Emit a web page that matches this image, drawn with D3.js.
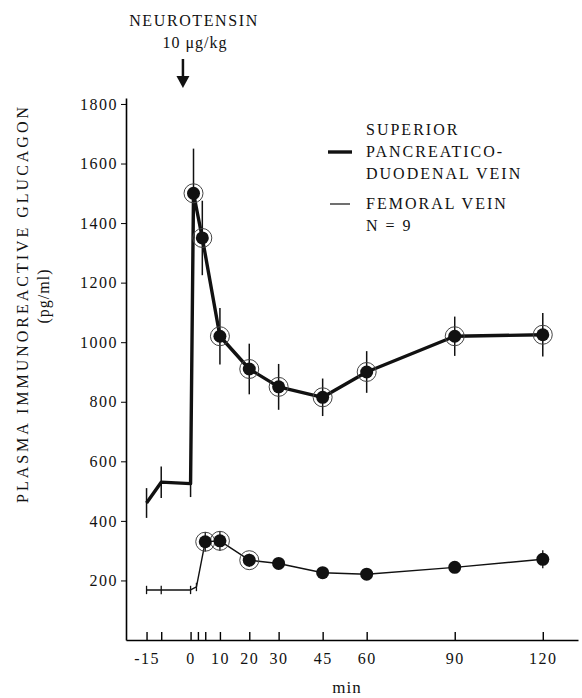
<!DOCTYPE html>
<html>
<head>
<meta charset="utf-8">
<script src="https://cdn.jsdelivr.net/npm/d3@7"></script>
<style>
    body { margin: 0; background: #fff; }
    svg text { font-family: "Liberation Serif", "DejaVu Serif", serif; fill: #111; }
</style>
</head>
<body>
<div id="chart"></div>
<script>
// Superior pancreaticoduodenal vein (thick line)
const spdvMinutes = [-15, -10, 0, 1, 4, 10, 20, 30, 45, 60, 90, 120];
const spdvGlucagon = [460, 530, 525, 1500, 1350, 1020, 910, 850, 815, 900, 1020, 1025];
const spdvSem = [50, 53, 45, 150, 125, 95, 85, 77, 63, 70, 66, 73];
const spdvDot = [false, false, false, true, true, true, true, true, true, true, true, true];
const spdvRing = [false, false, false, true, true, true, true, true, true, true, true, true];

// Femoral vein (thin line)
const femMinutes = [-15, -10, 0, 2, 5, 10, 20, 30, 45, 60, 90, 120];
const femGlucagon = [168, 168, 168, 178, 330, 333, 268, 257, 226, 221, 244, 271];
const femSem = [14, 14, 14, 14, 33, 33, 22, 10, 8, 8, 10, 30];
const femDot = [false, false, false, false, true, true, true, true, true, true, true, true];
const femRing = [false, false, false, false, true, true, true, false, false, false, false, false];

// Axis ticks
const xTickValues = [-15, -10, 0, 2.5, 5, 10, 20, 30, 45, 60, 90, 120];
const xTickLabels = ["-15", "", "0", "", "", "10", "20", "30", "45", "60", "90", "120"];
const yTickValues = [200, 400, 600, 800, 1000, 1200, 1400, 1600, 1800];

(function () {
    const width = 582;
    const height = 698;
    const serif = "'Liberation Serif', 'DejaVu Serif', serif";

    const svg = d3.select("#chart")
        .append("svg")
        .attr("width", width)
        .attr("height", height)
        .attr("font-family", serif);

    const xScale = d3.scaleLinear().domain([-22, 132]).range([126, 578]);
    const yScale = d3.scaleLinear().domain([0, 1820]).range([640, 98]);

    const toRows = (mins, vals, sems, dots, rings) =>
        mins.map((m, i) => ({ t: m, v: vals[i], e: sems[i], dot: dots[i], ring: rings[i] }));

    const spdv = toRows(spdvMinutes, spdvGlucagon, spdvSem, spdvDot, spdvRing);
    const fem = toRows(femMinutes, femGlucagon, femSem, femDot, femRing);

    // Axes
    const xAxis = svg.append("g")
        .attr("transform", `translate(0,${yScale(0)})`)
        .call(d3.axisBottom(xScale)
            .tickValues(xTickValues)
            .tickFormat((d, i) => xTickLabels[i])
            .tickSize(-8)
            .tickSizeOuter(0)
            .tickPadding(13));
    xAxis.attr("font-family", serif);
    xAxis.select(".domain").attr("stroke-width", 1.6);
    xAxis.selectAll(".tick line").attr("stroke-width", 1.4);
    xAxis.selectAll("text")
        .style("font-family", serif)
        .style("font-size", "16px")
        .style("letter-spacing", "1.5px")
        .attr("fill", "#111");

    const yAxis = svg.append("g")
        .attr("transform", `translate(${xScale(-22)},0)`)
        .call(d3.axisLeft(yScale)
            .tickValues(yTickValues)
            .tickFormat(d3.format("d"))
            .tickSize(5)
            .tickSizeOuter(0)
            .tickPadding(3));
    yAxis.attr("font-family", serif);
    yAxis.select(".domain").attr("stroke-width", 1.6);
    yAxis.selectAll("text")
        .style("font-family", serif)
        .style("font-size", "16px")
        .style("letter-spacing", "1.5px")
        .attr("fill", "#111");

    // Axis labels
    svg.append("text")
        .attr("transform", "translate(28,305) rotate(-90)")
        .attr("text-anchor", "middle")
        .attr("textLength", 396)
        .attr("lengthAdjust", "spacing")
        .style("font-size", "16px")
        .text("PLASMA IMMUNOREACTIVE GLUCAGON");

    svg.append("text")
        .attr("transform", "translate(49,296) rotate(-90)")
        .attr("text-anchor", "middle")
        .style("font-size", "16px")
        .style("letter-spacing", "1px")
        .text("(pg/ml)");

    svg.append("text")
        .attr("x", 347)
        .attr("y", 693)
        .attr("text-anchor", "middle")
        .style("font-size", "17px")
        .style("letter-spacing", "1px")
        .text("min");

    // Injection annotation
    svg.append("text")
        .attr("x", 194)
        .attr("y", 26)
        .attr("text-anchor", "middle")
        .style("font-size", "16px")
        .style("letter-spacing", "1.6px")
        .text("NEUROTENSIN");

    svg.append("text")
        .attr("x", 195)
        .attr("y", 48)
        .attr("text-anchor", "middle")
        .style("font-size", "16px")
        .style("letter-spacing", "1px")
        .text("10  μg/kg");

    const ax = xScale(-2.6);
    svg.append("line")
        .attr("x1", ax).attr("x2", ax)
        .attr("y1", 59).attr("y2", 78)
        .attr("stroke", "#111")
        .attr("stroke-width", 2.5);
    svg.append("path")
        .attr("d", `M${ax - 6.5},76 L${ax + 6.5},76 L${ax},88 Z`)
        .attr("fill", "#111");

    // Series drawing
    const line = d3.line()
        .x(d => xScale(d.t))
        .y(d => yScale(d.v));

    function drawSeries(data, lineWidth, barWidth) {
        const g = svg.append("g");

        g.selectAll(".err")
            .data(data)
            .enter()
            .append("line")
            .attr("x1", d => xScale(d.t))
            .attr("x2", d => xScale(d.t))
            .attr("y1", d => yScale(d.v - d.e))
            .attr("y2", d => yScale(d.v + d.e))
            .attr("stroke", "#111")
            .attr("stroke-width", barWidth);

        g.append("path")
            .datum(data)
            .attr("d", line)
            .attr("fill", "none")
            .attr("stroke", "#111")
            .attr("stroke-width", lineWidth)
            .attr("stroke-linejoin", "round");

        g.selectAll(".ring")
            .data(data.filter(d => d.ring))
            .enter()
            .append("circle")
            .attr("cx", d => xScale(d.t))
            .attr("cy", d => yScale(d.v))
            .attr("r", 9.5)
            .attr("fill", "none")
            .attr("stroke", "#444")
            .attr("stroke-width", 1);

        g.selectAll(".dot")
            .data(data.filter(d => d.dot))
            .enter()
            .append("circle")
            .attr("cx", d => xScale(d.t))
            .attr("cy", d => yScale(d.v))
            .attr("r", 6.5)
            .attr("fill", "#111");
    }

    drawSeries(fem, 1.4, 1.3);
    drawSeries(spdv, 3.4, 1.5);

    // Legend
    const legend = svg.append("g");
    legend.append("line")
        .attr("x1", 328).attr("x2", 352)
        .attr("y1", 152).attr("y2", 152)
        .attr("stroke", "#111")
        .attr("stroke-width", 3.4);
    legend.append("line")
        .attr("x1", 330).attr("x2", 350)
        .attr("y1", 204).attr("y2", 204)
        .attr("stroke", "#111")
        .attr("stroke-width", 1.2);

    const legendLines = [
        ["SUPERIOR", 135],
        ["PANCREATICO-", 157],
        ["DUODENAL VEIN", 179],
        ["FEMORAL VEIN", 209],
        ["N = 9", 231]
    ];
    legendLines.forEach(([label, y]) => {
        legend.append("text")
            .attr("x", 366)
            .attr("y", y)
            .style("font-size", "16px")
            .style("letter-spacing", "2px")
            .text(label);
    });
})();
</script>
</body>
</html>
